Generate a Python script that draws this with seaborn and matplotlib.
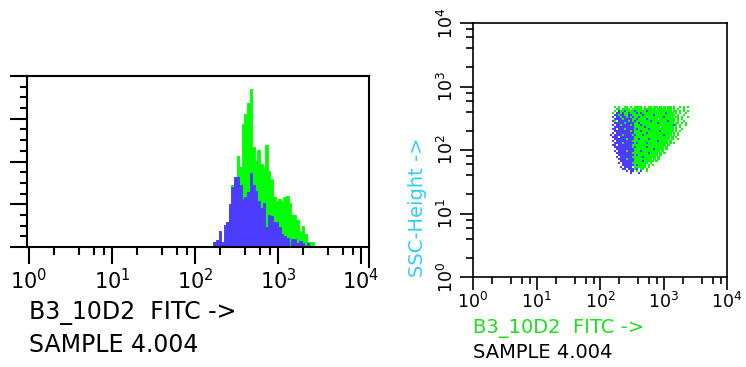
import numpy as np
import pandas as pd
import matplotlib
matplotlib.use("Agg")
import matplotlib.pyplot as plt
import seaborn as sns
from matplotlib.ticker import LogLocator, MultipleLocator, NullFormatter

# ---------------- data ----------------
# Histogram of B3_10D2 FITC (1/32-decade channels)
hist_log_start = 2.2205          # log10 of the lower edge of the first channel
hist_bin_log_width = 1 / 32      # channel width in decades
green_counts = [6, 8, 19, 6, 26, 29, 50, 72, 82, 107, 93, 144, 156, 168, 185,
                117, 101, 113, 97, 93, 119, 89, 80, 58, 54, 56, 54, 58, 60, 52,
                38, 38, 32, 19, 25, 15, 6, 6, 6]
blue_counts = [6, 8, 19, 6, 26, 29, 50, 70, 82, 82, 72, 56, 58, 64, 87,
               72, 66, 54, 46, 52, 23, 38, 36, 29, 29, 23, 15, 13, 11, 0,
               9, 9, 5, 7, 5, 0, 5, 0, 0]

# Dot plot FITC vs SSC-Height: occupancy of 1/32-decade cells
# ('g' green event, 'b' blue event, '.' empty); first row = highest SSC
dot_fitc_log_start = 2.15625
dot_ssc_log_top = 2.6875
dot_cell_log = 1 / 32
dot_rows = [
    "..g.g..gg.g.gggg.g.gg.gg.g.g.gg.g..g.g.g",
    "...gg.gggg.ggggg.gggggg.gggg.gg.g.g..g..",
    "..g.bggbggggbgggggbgggggggggggg.gg.g.g.g",
    ".g.bbgbggbgggbgbggggggggggggbggg.g.g..g.",
    "..bbgbbggbbgggggbgggggbgggggggggg.g..g..",
    ".b.bbgbbgbgbggbggggggggggggbgggg.gg.g..g",
    "..bbbbgbbbbggbggggbggggg.gggggggg.g.g...",
    ".bg.bbbbbgbgbgggggggbggggggggbggg.g..g..",
    "..bbbbbgbbbbggbgggggggggbggggggg.gg.g.g.",
    ".b.bbgbbbbgbgggbggggggggggggggggbg.g..g.",
    "..bbbbbbbbbbgggggbggggggg.gggggg.g.g....",
    ".bb.bbbgbbbbgbgggggbgggggggggggg.g..g...",
    "..bbbbbbbbgbgggbgggggggggbgggggg.g.g....",
    ".b.bbbbbbbbbggggggbgggggggggggg.g.g.....",
    "b.bbbbgbbbbgbgggbggggggggggbggg.g.g.....",
    ".bbb.bbbbbbbgggggggggggggggggg.g.g......",
    "..bbbbbbgbbbggbggggbgggggggggg.g..g.....",
    ".b.bbbbbbbbgggggggggggggbgggg.g.........",
    "..bbbbgbbbbbgbggggbgggggggggg.g.g.......",
    ".bb.bbbbbbbggggggggggggggggg.g..........",
    "..bbbbbbbbbgbgggggbgggggggg.g...........",
    "...bbbbbbbbbggggggggggbgggg.g...........",
    "..b.bbbbgbbbgggbggggggggg.g.............",
    "...bbbbbbbbggggggggbgggg.g.g............",
    "....bbbbbbbbgbgggggggggg.g..............",
    "...b.bbbbbbgggggbgggggg.g...............",
    "....bbbbgbbbggggggggg.g.g...............",
    ".....bbbbbbbggggbggggg.g................",
    "....b.bbbbbgggggggg.g...................",
    "......bbbbbbgbgggg.g.g..................",
    ".....b.bbbb.gggggg.g....................",
    "......bb.bbbgb.gg.g.....................",
    "........b.bb.g.b..g.....................",
    "..........b...b.........................",
]

x_label = "B3_10D2  FITC ->"
sample_label = "SAMPLE 4.004"
y_label_dot = "SSC-Height ->"

GREEN = "#00ff00"
BLUE = "#4b3cff"
GREEN_TEXT = "#1fe01f"
CYAN = "#33ccff"

# ---------------- style ----------------
sns.set_style("white")
plt.rcParams["font.family"] = ["DejaVu Sans"]
plt.rcParams["text.color"] = "black"
plt.rcParams["axes.labelcolor"] = "black"
plt.rcParams["xtick.color"] = "black"
plt.rcParams["ytick.color"] = "black"

fig = plt.figure(figsize=(7.46, 3.67), dpi=100)
fig.patch.set_facecolor("white")
ax1 = fig.add_axes([27 / 746, 1 - 247 / 367, 342 / 746, 171 / 367])
ax2 = fig.add_axes([473 / 746, 1 - 277 / 367, 254 / 746, 254 / 367])

# ---------------- histogram ----------------
n = len(green_counts)
centers_log = hist_log_start + (np.arange(n) + 0.5) * hist_bin_log_width
df_hist = pd.DataFrame({"fitc": 10 ** centers_log,
                        "green": green_counts, "blue": blue_counts})
brange = (hist_log_start, hist_log_start + n * hist_bin_log_width)
for col, colr in (("green", GREEN), ("blue", BLUE)):
    sns.histplot(data=df_hist, x="fitc", weights=col, bins=n, binrange=brange,
                 log_scale=True, element="step", fill=True, color=colr,
                 alpha=1, linewidth=0.6, edgecolor=colr, ax=ax1)

ax1.set_xscale("log")
ax1.set_xlim(10 ** -0.024, 10 ** 4.096)
ax1.set_ylim(0, 200)
ax1.set_xlabel("")
ax1.set_ylabel("")
ax1.xaxis.set_major_locator(LogLocator(base=10, numticks=10))
ax1.xaxis.set_minor_locator(LogLocator(base=10, subs=(2, 4, 6, 8), numticks=10))
ax1.xaxis.set_minor_formatter(NullFormatter())
ax1.yaxis.set_major_locator(MultipleLocator(50))
ax1.yaxis.set_minor_locator(MultipleLocator(12.5))
ax1.yaxis.set_major_formatter(NullFormatter())
ax1.tick_params(axis="x", which="major", direction="out", length=12, width=1.5,
                labelsize=15, pad=3, color="black", labelcolor="black", bottom=True)
ax1.tick_params(axis="x", which="minor", direction="out", length=6, width=1.5,
                color="black", bottom=True)
ax1.tick_params(axis="y", which="major", direction="out", length=12, width=1.5,
                color="black", left=True)
ax1.tick_params(axis="y", which="minor", direction="out", length=5, width=1.5,
                color="black", left=True)
for sp in ax1.spines.values():
    sp.set_color("black")
    sp.set_linewidth(1.5)
ax1.plot([1, 1], [0, -0.12], transform=ax1.transAxes, color="black",
         lw=1.5, clip_on=False, solid_capstyle="butt")

fig.text(29 / 746, 1 - 313 / 367, x_label, fontsize=17, color="black",
         ha="left", va="center")
fig.text(29 / 746, 1 - 345 / 367, sample_label, fontsize=17, color="black",
         ha="left", va="center")

# ---------------- dot plot ----------------
xs, ys, gate = [], [], []
for r, row in enumerate(dot_rows):
    for c, ch in enumerate(row[:40]):
        if ch in "gb":
            xs.append(10 ** (dot_fitc_log_start + (c + 0.5) * dot_cell_log))
            ys.append(10 ** (dot_ssc_log_top - (r + 0.5) * dot_cell_log))
            gate.append("G" if ch == "g" else "B")
df_dot = pd.DataFrame({"fitc": xs, "ssc": ys, "gate": gate})
sns.scatterplot(data=df_dot, x="fitc", y="ssc", hue="gate",
                palette={"G": GREEN, "B": BLUE}, marker="s", s=2.4,
                linewidth=0, legend=False, ax=ax2)
ax2.set_xscale("log")
ax2.set_yscale("log")
ax2.set_xlim(1, 1e4)
ax2.set_ylim(1, 1e4)
ax2.set_xlabel("")
ax2.set_ylabel(y_label_dot, color=CYAN, fontsize=14, loc="bottom", labelpad=7)
for axis in (ax2.xaxis, ax2.yaxis):
    axis.set_major_locator(LogLocator(base=10, numticks=10))
    axis.set_minor_locator(LogLocator(base=10, subs=(2, 4, 6, 8), numticks=10))
    axis.set_minor_formatter(NullFormatter())
ax2.tick_params(axis="both", which="major", direction="out", length=9.5,
                width=1.2, labelsize=12.5, color="black", labelcolor="black",
                bottom=True, left=True)
ax2.tick_params(axis="both", which="minor", direction="out", length=5,
                width=1.2, color="black", bottom=True, left=True)
ax2.tick_params(axis="x", which="major", pad=1.5)
ax2.tick_params(axis="y", which="major", pad=2, labelrotation=90)
for lbl in ax2.get_yticklabels():
    lbl.set_va("center")
for sp in ax2.spines.values():
    sp.set_color("black")
    sp.set_linewidth(1.2)

fig.text(473 / 746, 1 - 329 / 367, x_label, fontsize=14, color=GREEN_TEXT,
         ha="left", va="center")
fig.text(473 / 746, 1 - 352 / 367, sample_label, fontsize=14, color="black",
         ha="left", va="center")

fig.savefig("out.png", dpi=100, facecolor="white")
